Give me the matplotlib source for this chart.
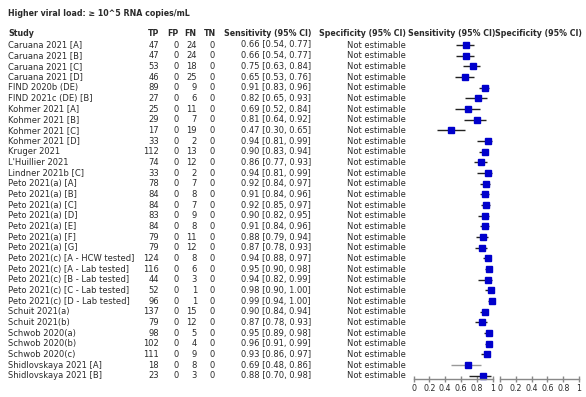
"""Forest plot: sensitivity of antigen tests at higher viral load."""

import matplotlib.pyplot as plt

# ---- data ----
studies = [
    "Caruana 2021 [A]", "Caruana 2021 [B]", "Caruana 2021 [C]", "Caruana 2021 [D]",
    "FIND 2020b (DE)", "FIND 2021c (DE) [B]",
    "Kohmer 2021 [A]", "Kohmer 2021 [B]", "Kohmer 2021 [C]", "Kohmer 2021 [D]",
    "Kruger 2021", "L'Huillier 2021", "Lindner 2021b [C]",
    "Peto 2021(a) [A]", "Peto 2021(a) [B]", "Peto 2021(a) [C]", "Peto 2021(a) [D]",
    "Peto 2021(a) [E]", "Peto 2021(a) [F]", "Peto 2021(a) [G]",
    "Peto 2021(c) [A - HCW tested]", "Peto 2021(c) [A - Lab tested]",
    "Peto 2021(c) [B - Lab tested]", "Peto 2021(c) [C - Lab tested]",
    "Peto 2021(c) [D - Lab tested]",
    "Schuit 2021(a)", "Schuit 2021(b)",
    "Schwob 2020(a)", "Schwob 2020(b)", "Schwob 2020(c)",
    "Shidlovskaya 2021 [A]", "Shidlovskaya 2021 [B]",
]
tp = [47, 47, 53, 46, 89, 27, 25, 29, 17, 33, 112, 74, 33,
      78, 84, 84, 83, 84, 79, 79, 124, 116, 44, 52, 96,
      137, 79, 98, 102, 111, 18, 23]
fp = [0] * len(studies)
fn = [24, 24, 18, 25, 9, 6, 11, 7, 19, 2, 13, 12, 2,
      7, 8, 7, 9, 8, 11, 12, 8, 6, 3, 1, 1,
      15, 12, 5, 4, 9, 8, 3]
tn = [0] * len(studies)
sens = [0.66, 0.66, 0.75, 0.65, 0.91, 0.82, 0.69, 0.81, 0.47, 0.94, 0.90, 0.86, 0.94,
        0.92, 0.91, 0.92, 0.90, 0.91, 0.88, 0.87, 0.94, 0.95, 0.94, 0.98, 0.99,
        0.90, 0.87, 0.95, 0.96, 0.93, 0.69, 0.88]
lo = [0.54, 0.54, 0.63, 0.53, 0.83, 0.65, 0.52, 0.64, 0.30, 0.81, 0.83, 0.77, 0.81,
      0.84, 0.84, 0.85, 0.82, 0.84, 0.79, 0.78, 0.88, 0.90, 0.82, 0.90, 0.94,
      0.84, 0.78, 0.89, 0.91, 0.86, 0.48, 0.70]
hi = [0.77, 0.77, 0.84, 0.76, 0.96, 0.93, 0.84, 0.92, 0.65, 0.99, 0.94, 0.93, 0.99,
      0.97, 0.96, 0.97, 0.95, 0.96, 0.94, 0.93, 0.97, 0.98, 0.99, 1.00, 1.00,
      0.94, 0.93, 0.98, 0.99, 0.97, 0.86, 0.98]
tick_vals = [0, 0.2, 0.4, 0.6, 0.8, 1]
tick_labels = ["0", "0.2", "0.4", "0.6", "0.8", "1"]

W, H = 586, 397
TXT = "#2a2a2a"
FS = 6.0      # body text
FSB = 5.7     # bold headers
FST = 5.7     # tick labels
ROW0, ROWH = 45.0, 10.667   # pixel y of first row, row pitch
AXIS_Y = 379.0              # pixel y of the axis line
TOP_Y = 36.0

plt.rcParams['font.family'] = ['DejaVu Sans']

fig = plt.figure(figsize=(W / 100, H / 100), dpi=100)

# text layer in pixel coordinates
tax = fig.add_axes([0, 0, 1, 1])
tax.set_xlim(0, W)
tax.set_ylim(H, 0)
tax.axis("off")

tax.text(8, 13, "Higher viral load: \u2265 10^5 RNA copies/mL", fontsize=FSB,
         fontweight="bold", color=TXT, va="center", ha="left")
hy = 34
hkw = dict(fontsize=FSB, fontweight="bold", color=TXT, va="center")
tax.text(8, hy, "Study", ha="left", **hkw)
for x, lab in [(159, "TP"), (178, "FP"), (196, "FN"), (216, "TN")]:
    tax.text(x, hy, lab, ha="right", **hkw)
tax.text(311, hy, "Sensitivity (95% CI)", ha="right", **hkw)
tax.text(406, hy, "Specificity (95% CI)", ha="right", **hkw)
tax.text(408, hy, "Sensitivity (95% CI)", ha="left", **hkw)
tax.text(582, hy, "Specificity (95% CI)", ha="right", **hkw)

for i, name in enumerate(studies):
    y = ROW0 + i * ROWH
    kw = dict(fontsize=FS, color=TXT, va="center")
    tax.text(8, y, name, ha="left", **kw)
    tax.text(159, y, str(tp[i]), ha="right", **kw)
    tax.text(179, y, str(fp[i]), ha="right", **kw)
    tax.text(197, y, str(fn[i]), ha="right", **kw)
    tax.text(215, y, str(tn[i]), ha="right", **kw)
    tax.text(311, y, f"{sens[i]:.2f} [{lo[i]:.2f}, {hi[i]:.2f}]", ha="right", **kw)
    tax.text(406, y, "Not estimable", ha="right", **kw)


def forest_axes(x0, x1):
    """Axes whose x runs 0..1 between pixel x0 and x1, rows in row units."""
    bottom = (H - AXIS_Y) / H
    height = (AXIS_Y - TOP_Y) / H
    ax = fig.add_axes([x0 / W, bottom, (x1 - x0) / W, height])
    ax.set_xlim(0, 1)
    ax.set_ylim((AXIS_Y - ROW0) / ROWH, (TOP_Y - ROW0) / ROWH)
    ax.patch.set_visible(False)
    for s in ("left", "right", "top"):
        ax.spines[s].set_visible(False)
    ax.spines["bottom"].set_color("#888888")
    ax.spines["bottom"].set_linewidth(1.0)
    ax.set_yticks([])
    ax.set_xticks(tick_vals)
    ax.set_xticklabels(tick_labels)
    ax.tick_params(axis="x", direction="inout", length=5, width=1.0, color="#888888",
                   labelsize=FST, labelcolor=TXT, pad=1)
    return ax


sax = forest_axes(413.5, 492.5)
for i in range(len(studies)):
    ci_col = "#999999" if studies[i] == "Shidlovskaya 2021 [A]" else "#222222"
    sax.plot([lo[i], hi[i]], [i, i], color=ci_col, lw=1.0, solid_capstyle="butt",
             clip_on=False)
    sax.plot(sens[i], i, marker="s", ms=4.6, color="#0000cc", mec="#0000cc",
             clip_on=False)

forest_axes(500, 579)

fig.savefig("out.png", dpi=100)
